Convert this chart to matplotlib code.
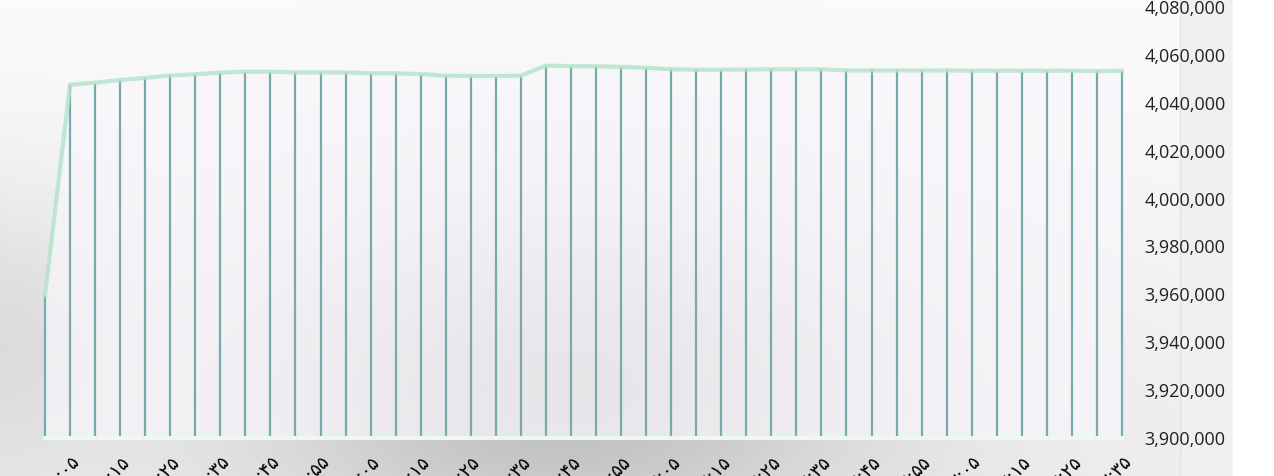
import numpy as np
import matplotlib.pyplot as plt
from matplotlib.patches import Rectangle

# time of each reading (5 minute steps), Persian digits
times = ["۱۰:۰۰", "۱۰:۰۵", "۱۰:۱۰", "۱۰:۱۵", "۱۰:۲۰", "۱۰:۲۵", "۱۰:۳۰", "۱۰:۳۵",
         "۱۰:۴۰", "۱۰:۴۵", "۱۰:۵۰", "۱۰:۵۵",
         "۱۱:۰۰", "۱۱:۰۵", "۱۱:۱۰", "۱۱:۱۵", "۱۱:۲۰", "۱۱:۲۵", "۱۱:۳۰", "۱۱:۳۵",
         "۱۱:۴۰", "۱۱:۴۵", "۱۱:۵۰", "۱۱:۵۵",
         "۱۲:۰۰", "۱۲:۰۵", "۱۲:۱۰", "۱۲:۱۵", "۱۲:۲۰", "۱۲:۲۵", "۱۲:۳۰", "۱۲:۳۵",
         "۱۲:۴۰", "۱۲:۴۵", "۱۲:۵۰", "۱۲:۵۵",
         "۱۳:۰۰", "۱۳:۰۵", "۱۳:۱۰", "۱۳:۱۵", "۱۳:۲۰", "۱۳:۲۵", "۱۳:۳۰", "۱۳:۳۵"]

values = [3959500, 4047500, 4048400, 4049500, 4050400, 4051400, 4051900, 4052600,
          4053000, 4053000, 4052700, 4052700, 4052700, 4052300, 4052300, 4052000,
          4051300, 4051200, 4051200, 4051300, 4055500, 4055300, 4055200, 4055000,
          4054600, 4054000, 4053800, 4053800, 4053900, 4054000, 4054000, 4054000,
          4053500, 4053500, 4053500, 4053500, 4053500, 4053400, 4053400, 4053400,
          4053400, 4053400, 4053200, 4053400]

y_ticks = [3900000, 3920000, 3940000, 3960000, 3980000, 4000000,
           4020000, 4040000, 4060000, 4080000]

W, H = 1274, 476
fig = plt.figure(figsize=(W / 100, H / 100), dpi=100)

# blurred grey backdrop like the screenshot
gx, gy = np.meshgrid(np.arange(W), np.arange(H))
shade = (0.985 - 0.05 * gy / H
         - 0.2 * np.exp(-((gx - 560) / 320) ** 2 - ((gy - 380) / 170) ** 2)
         - 0.08 * np.exp(-((gx + 20) / 140) ** 2 - ((gy - 330) / 150) ** 2))
bg = fig.add_axes([0, 0, 1, 1], zorder=0)
bg.imshow(np.dstack([shade, shade, shade]).clip(0, 1), aspect="auto",
          extent=[0, W, H, 0])
bg.add_patch(Rectangle((1180, 0), 53, H, color="#f0f0f0"))
bg.add_patch(Rectangle((1233, 0), W - 1233, H, color="white"))
bg.plot([1180, 1180], [0, H], color="#dbe6f5", lw=1)
bg.set_xlim(0, W)
bg.set_ylim(H, 0)
bg.axis("off")

ax = fig.add_axes([45 / W, 1 - 438 / H, (1122 - 45) / W, (438 - 7) / H], zorder=1)
ax.patch.set_alpha(0)
x = np.arange(len(values))
base = y_ticks[0]

ax.fill_between(x, values, base, color="#f8f6fb", alpha=0.72, lw=0)
ax.vlines(x, base, values, color="#74abab", lw=1.6, clip_on=False)
ax.plot(x, values, color="#b3e2cb", lw=3, alpha=0.8, clip_on=False)
ax.axhline(base, color="#eef8f3", lw=3, clip_on=False)

ax.set_xlim(0, len(values) - 1)
ax.set_ylim(y_ticks[0], y_ticks[-1])

ax.set_xticks(x[1::2])
ax.set_xticklabels(times[1::2], rotation=45, ha="right", va="top",
                   rotation_mode="anchor", fontsize=13, family=["DejaVu Sans"])
ax.tick_params(axis="x", length=0, pad=10)

ax.yaxis.tick_right()
ax.set_yticks(y_ticks)
ax.set_yticklabels([f"{v:,}" for v in y_ticks], family=["Open Sans", "DejaVu Sans"],
                   fontsize=13, color="#222222")
ax.tick_params(axis="y", length=0, pad=16)

for s in ax.spines.values():
    s.set_visible(False)

fig.savefig("out.png", dpi=100)
